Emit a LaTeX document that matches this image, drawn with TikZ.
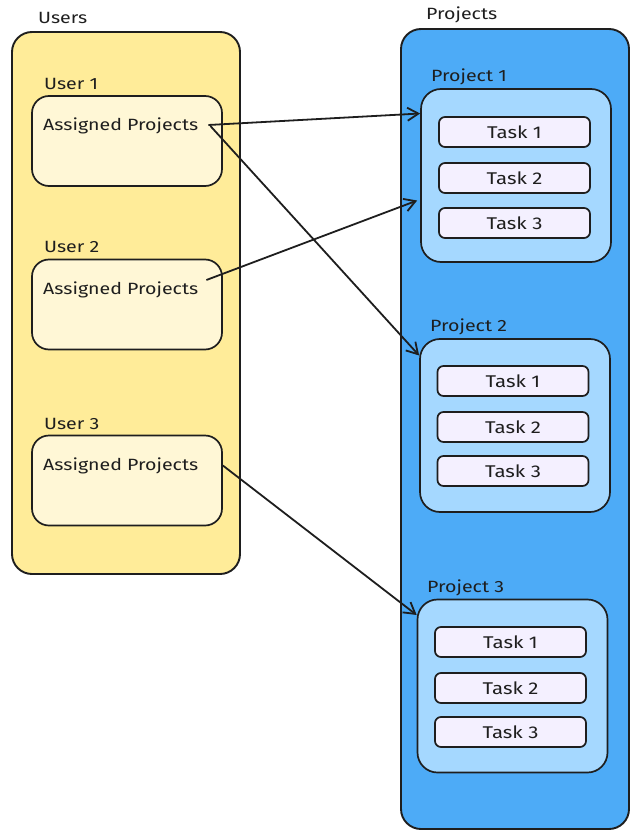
\documentclass[tikz,border=0pt]{standalone}
\usepackage{fontspec}
\setmainfont{Fira Sans}[FakeStretch=1.2]
\usetikzlibrary{arrows.meta,calc}
\definecolor{ink}{HTML}{1E1E1E}
\definecolor{usersfill}{HTML}{FFEC99}
\definecolor{userfill}{HTML}{FFF7D6}
\definecolor{projsfill}{HTML}{4DABF7}
\definecolor{projfill}{HTML}{A5D8FF}
\definecolor{taskfill}{HTML}{F4F0FF}
\tikzset{
  base/.style={draw=ink, line width=1.7pt, inner sep=0pt},
  bigbox/.style={base, rounded corners=20pt, line width=1.9pt},
  userbox/.style={base, fill=userfill, rounded corners=17pt, minimum width=190pt, minimum height=90pt},
  projbox/.style={base, fill=projfill, rounded corners=20pt, minimum width=190pt, minimum height=173pt},
  taskbox/.style={base, fill=taskfill, rounded corners=6pt, minimum width=151pt, minimum height=30pt, text=ink, font=\fontsize{17}{20}\selectfont},
  lbl/.style={anchor=west, inner sep=0pt, text=ink, font=\fontsize{16.3}{19}\selectfont},
  conn/.style={draw=ink, line width=1.8pt, -{Straight Barb[length=11pt,width=13pt,line width=1.8pt]}}
}
\begin{document}
\begin{tikzpicture}[x=1pt,y=-1pt]
\useasboundingbox (0,0) rectangle (642,837);
% Users
\node[lbl] (userslbl) at (38,18) {Users};
\node[bigbox, fill=usersfill, minimum width=228pt, minimum height=542pt] (users) at (126,303) {};
\node[lbl] (u1lbl) at (44,84) {User 1};
\node[userbox] (u1) at (127,141) {};
\node[lbl] (a1) at (43,126) {Assigned Projects};
\node[lbl] (u2lbl) at (44,247) {User 2};
\node[userbox] (u2) at (127,304.5) {};
\node[lbl] (a2) at (43,290) {Assigned Projects};
\node[lbl] (u3lbl) at (44,424) {User 3};
\node[userbox] (u3) at (127,480.5) {};
\node[lbl] (a3) at (43,466) {Assigned Projects};
% Projects
\node[lbl] (projslbl) at (426,15) {Projects};
\node[bigbox, fill=projsfill, minimum width=228pt, minimum height=800pt] (projs) at (515,429) {};
\node[lbl] (p1lbl) at (431,77) {Project 1};
\node[projbox] (p1) at (516,175.5) {};
\node[taskbox] (t11) at (514.5,132) {Task 1};
\node[taskbox] (t12) at (514.5,178) {Task 2};
\node[taskbox] (t13) at (514.5,223) {Task 3};
\node[lbl] (p2lbl) at (430,327) {Project 2};
\node[projbox] (p2) at (515,425.5) {};
\node[taskbox] (t21) at (513,381) {Task 1};
\node[taskbox] (t22) at (513,427) {Task 2};
\node[taskbox] (t23) at (513,471) {Task 3};
\node[lbl] (p3lbl) at (427,588) {Project 3};
\node[projbox] (p3) at (512.5,686) {};
\node[taskbox] (t31) at (510.5,642) {Task 1};
\node[taskbox] (t32) at (510.5,688) {Task 2};
\node[taskbox] (t33) at (510.5,732) {Task 3};
% Connectors
\draw[conn] ([xshift=10pt,yshift=1pt]a1.east) -- ([yshift=62pt]p1.west);
\draw[conn] ([xshift=12pt]a1.east) -- ([yshift=70pt]p2.west);
\draw[conn] ([xshift=8pt,yshift=10pt]a2.east) -- ([xshift=-3pt,yshift=-25pt]p1.west);
\draw[conn] ([yshift=15pt]u3.east) -- ([yshift=71pt]p3.west);
\end{tikzpicture}
\end{document}
